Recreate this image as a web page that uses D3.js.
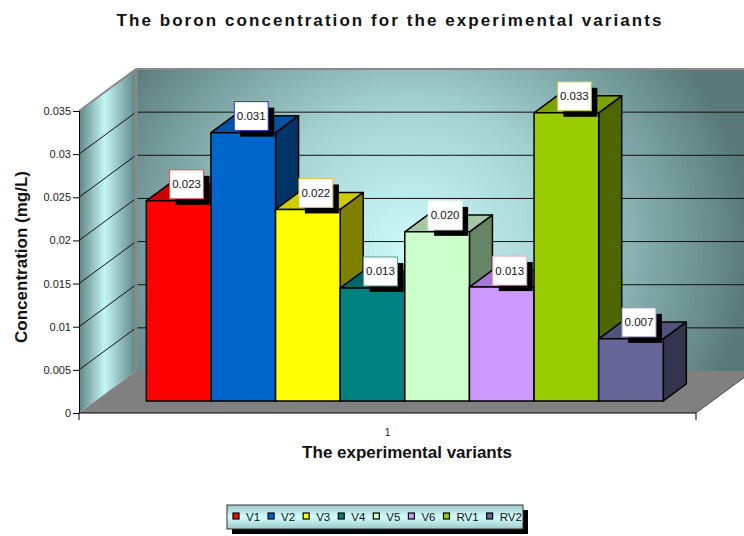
<!DOCTYPE html>
<html>
<head>
<meta charset="utf-8">
<script src="https://cdn.jsdelivr.net/npm/d3@7"></script>
<style>
  body { margin: 0; background: #fff; }
  text { font-family: Arial, "Liberation Sans", sans-serif; }
</style>
</head>
<body>
<script>
// chart data
var series = ["V1", "V2", "V3", "V4", "V5", "V6", "RV1", "RV2"];
var values = [0.0232, 0.0311, 0.0222, 0.0131, 0.0196, 0.0132, 0.0334, 0.0072];
var categories = ["1"];
var yTicks = [0, 0.005, 0.01, 0.015, 0.02, 0.025, 0.03, 0.035];
var yTickLabels = ["0", "0.005", "0.01", "0.015", "0.02", "0.025", "0.03", "0.035"];

var frontColors = ["#ff0000", "#0066cc", "#ffff00", "#008080", "#ccffcc", "#cc99ff", "#99cc00", "#666699"];
var topColors   = ["#cc0000", "#0052a3", "#cccc00", "#006666", "#a3c8a3", "#a47acc", "#7aa300", "#52527a"];
var sideColors  = ["#800000", "#003366", "#808000", "#004040", "#668466", "#664d80", "#4d6600", "#33334d"];
var labelBorders = ["#e04848", "#2a2ae0", "#e8c040", "#5aa08a", "#e8f8e8", "#f0a8c8", "#a8cc40", "#9898c0"];

var width = 744, height = 536;
var DX = 57, DY = -42;      // full depth offset of the 3d box
var d0 = 0.286, d1 = 0.69;  // bar depth range

var svg = d3.select("body").append("svg")
    .attr("width", width)
    .attr("height", height);

var defs = svg.append("defs");
var rg = defs.append("radialGradient")
    .attr("id", "wallGrad")
    .attr("gradientUnits", "userSpaceOnUse")
    .attr("cx", 410).attr("cy", 245).attr("r", 340)
    .attr("gradientTransform", "translate(410,245) scale(1,0.9) translate(-410,-245)");
rg.append("stop").attr("offset", "0").attr("stop-color", "#ccfafa");
rg.append("stop").attr("offset", "0.45").attr("stop-color", "#a4d2d2");
rg.append("stop").attr("offset", "1").attr("stop-color", "#5a7a7a");

var sg = defs.append("linearGradient")
    .attr("id", "sideGrad")
    .attr("x1", "0").attr("x2", "1").attr("y1", "0").attr("y2", "0");
sg.append("stop").attr("offset", "0").attr("stop-color", "#5f8585");
sg.append("stop").attr("offset", "0.45").attr("stop-color", "#c4f6f6");
sg.append("stop").attr("offset", "1").attr("stop-color", "#5f8585");

var lg = defs.append("linearGradient")
    .attr("id", "legGrad")
    .attr("x1", "0").attr("x2", "0").attr("y1", "0").attr("y2", "1");
lg.append("stop").attr("offset", "0").attr("stop-color", "#9cc8c8");
lg.append("stop").attr("offset", "0.5").attr("stop-color", "#d4ffff");
lg.append("stop").attr("offset", "1").attr("stop-color", "#9cc8c8");

var y = d3.scaleLinear().domain([0, 0.035]).range([413, 111]);
var xCat = d3.scaleBand().domain(categories).range([79, 696]);
var x = d3.scaleBand().domain(series).range([130, 647]);

// oblique projection: front-plane x, value, depth
function P(xf, v, d) {
  return [xf + d * DX, y(v) + d * DY];
}
function poly(pts) {
  return "M" + pts.map(function(p) { return p[0] + "," + p[1]; }).join("L") + "Z";
}

var x0 = xCat.range()[0], x1 = xCat.range()[1];
var vmax = y.domain()[1];

// back wall
svg.append("path")
    .attr("d", poly([P(x0, vmax, 1), P(x1, vmax, 1), P(x1, 0, 1), P(x0, 0, 1)]))
    .attr("fill", "url(#wallGrad)");

// side wall
svg.append("path")
    .attr("d", poly([P(x0, vmax, 0), P(x0, vmax, 1), P(x0, 0, 1), P(x0, 0, 0)]))
    .attr("fill", "url(#sideGrad)");

// floor
svg.append("path")
    .attr("d", poly([P(x0, 0, 0), P(x0, 0, 1), P(x1, 0, 1), P(x1, 0, 0)]))
    .attr("fill", "#808080");
svg.append("line")
    .attr("x1", P(x1, 0, 0)[0]).attr("y1", P(x1, 0, 0)[1])
    .attr("x2", P(x1, 0, 1)[0]).attr("y2", P(x1, 0, 1)[1])
    .attr("stroke", "#333").attr("stroke-width", 0.8);

// gridlines on back and side walls
var grid = yTicks.filter(function(t) { return t > 0 && t < vmax; });
svg.append("g").selectAll("line.back")
    .data(grid).enter().append("line")
    .attr("x1", P(x0, 0, 1)[0]).attr("x2", P(x1, 0, 1)[0])
    .attr("y1", function(d) { return P(x0, d, 1)[1]; })
    .attr("y2", function(d) { return P(x0, d, 1)[1]; })
    .attr("stroke", "#111").attr("stroke-width", 1);
svg.append("g").selectAll("line.side")
    .data(grid).enter().append("line")
    .attr("x1", x0).attr("y1", function(d) { return y(d); })
    .attr("x2", P(x0, 0, 1)[0]).attr("y2", function(d) { return P(x0, d, 1)[1]; })
    .attr("stroke", "#111").attr("stroke-width", 1);

// wall edges
svg.append("path")
    .attr("d", "M" + P(x0, vmax, 0) + "L" + P(x0, vmax, 1) + "L" + P(x1, vmax, 1))
    .attr("fill", "none").attr("stroke", "#8a8a8a").attr("stroke-width", 2);
svg.append("line")
    .attr("x1", P(x0, 0, 1)[0]).attr("y1", P(x0, vmax, 1)[1])
    .attr("x2", P(x0, 0, 1)[0]).attr("y2", P(x0, 0, 1)[1])
    .attr("stroke", "#8a8a8a").attr("stroke-width", 3);

// bars
var bars = svg.append("g");
series.forEach(function(s, i) {
  var v = values[i];
  var a = x(s), b = x(s) + x.bandwidth();
  var g = bars.append("g").attr("stroke", "#000").attr("stroke-width", 1.5).attr("stroke-linejoin", "round");
  g.append("path").attr("fill", sideColors[i])
      .attr("d", poly([P(b, 0, d0), P(b, v, d0), P(b, v, d1), P(b, 0, d1)]));
  g.append("path").attr("fill", topColors[i])
      .attr("d", poly([P(a, v, d0), P(a, v, d1), P(b, v, d1), P(b, v, d0)]));
  g.append("path").attr("fill", frontColors[i])
      .attr("d", poly([P(a, 0, d0), P(a, v, d0), P(b, v, d0), P(b, 0, d0)]));
});

// data labels
var fmt = d3.format(".3f");
var lw = 34, lh = 29;
series.forEach(function(s, i) {
  var v = values[i];
  var cx = P(x(s) + x.bandwidth() / 2, v, d0)[0] + 8;
  var by = P(x(s), v, d0)[1] - 2;
  var g = svg.append("g");
  g.append("rect").attr("x", cx - lw / 2 + 6).attr("y", by - lh + 6)
      .attr("width", lw).attr("height", lh).attr("fill", "#000");
  g.append("rect").attr("x", cx - lw / 2).attr("y", by - lh)
      .attr("width", lw).attr("height", lh)
      .attr("fill", "#fff").attr("stroke", labelBorders[i]).attr("stroke-width", 1);
  g.append("text").attr("x", cx).attr("y", by - lh / 2 + 4)
      .attr("text-anchor", "middle").attr("font-size", 11.5).attr("fill", "#111")
      .text(fmt(v));
});

// y axis
var yAxis = d3.axisLeft(y).tickValues(yTicks).tickSize(6).tickPadding(2)
    .tickFormat(function(d, i) { return yTickLabels[i]; });
var ya = svg.append("g").attr("transform", "translate(" + x0 + ",0)").call(yAxis);
ya.select(".domain").attr("stroke", "#000");
ya.selectAll("text").attr("font-size", 11).attr("fill", "#222")
    .style("font-family", "Arial, 'Liberation Sans', sans-serif");

// x axis
var xa = svg.append("g").attr("transform", "translate(0," + y(0) + ")");
xa.append("line").attr("x1", x0).attr("x2", x1).attr("stroke", "#000").attr("stroke-width", 1.2);
xa.selectAll("line.tk").data(xCat.range()).enter().append("line")
    .attr("x1", function(d) { return d; }).attr("x2", function(d) { return d; })
    .attr("y1", 0).attr("y2", 7).attr("stroke", "#000");
xa.selectAll("text").data(categories).enter().append("text")
    .attr("x", function(d) { return xCat(d) + xCat.bandwidth() / 2; })
    .attr("y", 23).attr("text-anchor", "middle").attr("font-size", 10).attr("fill", "#222")
    .text(function(d) { return d; });

// titles
svg.append("text").attr("x", 389).attr("y", 26).attr("text-anchor", "middle")
    .attr("font-size", 17).attr("font-weight", "bold").attr("fill", "#111")
    .attr("textLength", 545).attr("lengthAdjust", "spacing")
    .text("The boron concentration for the experimental variants");
svg.append("text").attr("x", 407).attr("y", 458).attr("text-anchor", "middle")
    .attr("font-size", 17).attr("font-weight", "bold").attr("fill", "#111")
    .text("The experimental variants");
svg.append("text").attr("transform", "translate(27,257) rotate(-90)").attr("text-anchor", "middle")
    .attr("font-size", 17).attr("font-weight", "bold").attr("fill", "#111")
    .text("Concentration (mg/L)");

// legend
var legX = 227, legY = 505, legW = 296, legH = 24;
svg.append("rect").attr("x", legX + 5).attr("y", legY + 5).attr("width", legW).attr("height", legH).attr("fill", "#000");
svg.append("rect").attr("x", legX).attr("y", legY).attr("width", legW).attr("height", legH)
    .attr("fill", "url(#legGrad)").attr("stroke", "#333").attr("stroke-width", 1);
var lx = 233;
series.forEach(function(s, i) {
  svg.append("rect").attr("x", lx).attr("y", legY + 8).attr("width", 6).attr("height", 6)
      .attr("fill", frontColors[i]).attr("stroke", "#000").attr("stroke-width", 1.2);
  var t = svg.append("text").attr("x", lx + 13).attr("y", legY + 16).attr("font-size", 11.5).attr("fill", "#111").text(s);
  lx += 13 + t.node().getComputedTextLength() + 8;
});
</script>
</body>
</html>
